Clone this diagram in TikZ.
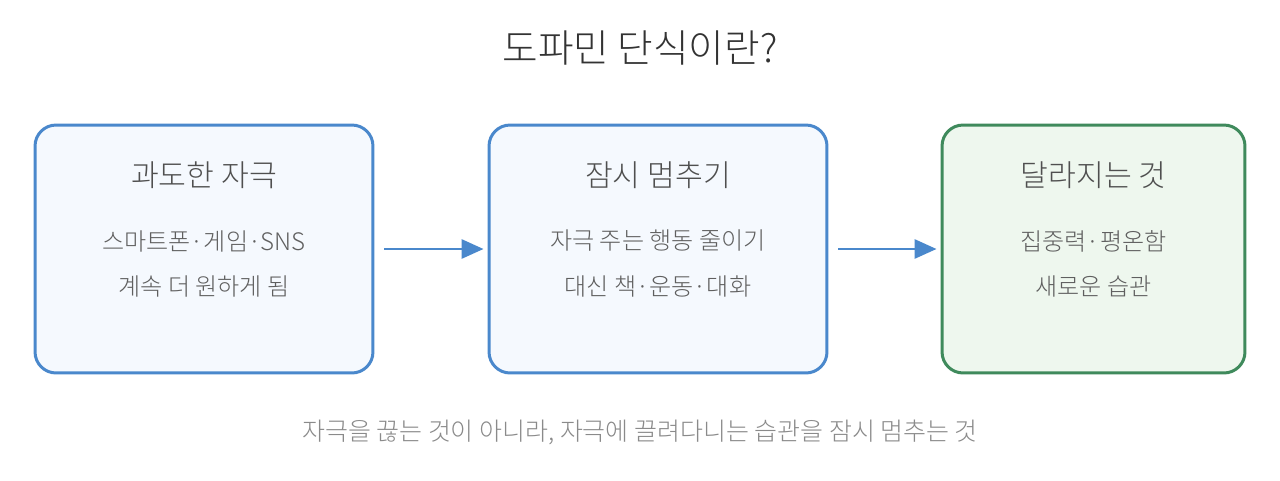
\documentclass[tikz,border=0pt]{standalone}
\usepackage{fontspec}
\setmainfont{Noto Sans CJK KR Light}
\usetikzlibrary{arrows.meta}
\definecolor{bluebd}{HTML}{4A88CC}
\definecolor{bluefl}{HTML}{F5F9FE}
\definecolor{greenbd}{HTML}{3F8A5C}
\definecolor{greenfl}{HTML}{EEF7EE}
\definecolor{titlec}{HTML}{333333}
\definecolor{headc}{HTML}{4F4F4F}
\definecolor{linec}{HTML}{5F5F5F}
\definecolor{notec}{HTML}{8A8A8A}
\tikzset{
 stagebox/.style={draw=bluebd,fill=bluefl,line width=1.7pt,rounded corners=0.42cm,minimum height=4.96cm},
 head/.style={text=headc,font=\fontsize{17.2}{20}\selectfont},
 item/.style={text=linec,font=\fontsize{13.7}{16}\selectfont},
 flow/.style={draw=bluebd,line width=1.7pt,-{Triangle[length=0.44cm,width=0.38cm]},shorten <=0.2cm,shorten >=0.08cm}
}
\begin{document}
\begin{tikzpicture}[x=0.02cm,y=-0.02cm]
 \useasboundingbox[fill=white](0,0) rectangle (1280,480);
 \node[text=titlec,font=\fontsize{22}{26}\selectfont] (title) at (640,48) {도파민 단식이란?};
 % three stages
 \node[stagebox,minimum width=6.76cm] (over) at (204,249) {};
 \node[stagebox,minimum width=6.76cm] (pause) at (658,249) {};
 \node[stagebox,draw=greenbd,fill=greenfl,minimum width=6.06cm] (change) at (1093.5,249) {};
 \node[head] (overh) at (204,175) {과도한 자극};
 \node[item] (over1) at (204,241) {스마트폰·게임·SNS};
 \node[item] (over2) at (204,286) {계속 더 원하게 됨};
 \node[head] (pauseh) at (658,175) {잠시 멈추기};
 \node[item] (pause1) at (658,241) {자극 주는 행동 줄이기};
 \node[item] (pause2) at (658,286) {대신 책·운동·대화};
 \node[head] (changeh) at (1093.5,175) {달라지는 것};
 \node[item] (change1) at (1093.5,241) {집중력·평온함};
 \node[item] (change2) at (1093.5,286) {새로운 습관};
 \draw[flow] (over.east) -- (pause.west);
 \draw[flow] (pause.east) -- (change.west);
 \node[text=notec,font=\fontsize{14.2}{17}\selectfont] (note) at (640,432) {자극을 끊는 것이 아니라, 자극에 끌려다니는 습관을 잠시 멈추는 것};
\end{tikzpicture}
\end{document}
